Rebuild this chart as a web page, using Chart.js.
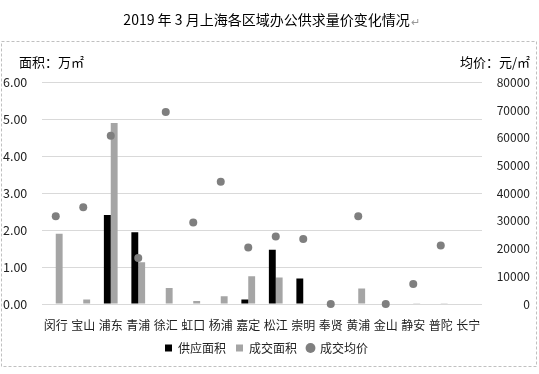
<!DOCTYPE html>
<html>
<head>
<meta charset="utf-8">
<script src="https://cdn.jsdelivr.net/npm/chart.js@4"></script>
<style>
html,body{margin:0;padding:0;background:#fff;}
#wrap{width:539px;height:374px;position:relative;}
</style>
</head>
<body>
<div id="wrap"><canvas id="c" width="539" height="374"></canvas></div>
<script>
const chartTitle = '2019 年 3 月上海各区域办公供求量价变化情况';
const leftAxisTitle = '面积：万㎡';
const rightAxisTitle = '均价：元/㎡';
const categories = ['闵行','宝山','浦东','青浦','徐汇','虹口','杨浦','嘉定','松江','崇明','奉贤','黄浦','金山','静安','普陀','长宁'];
const seriesNames = ['供应面积','成交面积','成交均价'];
const supplyArea = [0, 0, 2.41, 1.94, 0, 0, 0, 0.12, 1.47, 0.69, 0, 0, 0, 0, 0, 0];
const dealArea   = [1.90, 0.12, 4.90, 1.13, 0.43, 0.08, 0.21, 0.75, 0.72, 0, 0, 0.42, 0, 0.02, 0.02, 0];
const avgPrice   = [31700, 34960, 60700, 16600, 69350, 29400, 44170, 20430, 24390, 23450, 0, 31700, 0, 7200, 21150, null];
const leftTicks = [0, 1, 2, 3, 4, 5, 6];
const rightTicks = [0, 10000, 20000, 30000, 40000, 50000, 60000, 70000, 80000];

const FONT = '"Noto Sans CJK SC", "Noto Sans", sans-serif';
const TITLE_PAD_TOP = 11.6;
const TITLE_SIZE = 14;

const decor = {
  id: 'decor',
  beforeDraw(chart) {
    const ctx = chart.ctx;
    ctx.save();
    ctx.strokeStyle = '#c0c0c0';
    ctx.lineWidth = 1;
    ctx.setLineDash([3, 2]);
    ctx.strokeRect(1.5, 41.5, 535, 325);
    ctx.restore();
  },
  afterDraw(chart) {
    const ctx = chart.ctx;
    ctx.save();
    ctx.font = '13px ' + FONT;
    ctx.fillStyle = '#000';
    ctx.textBaseline = 'middle';
    ctx.textAlign = 'left';
    ctx.fillText(leftAxisTitle, 19, 62);
    ctx.textAlign = 'right';
    ctx.fillText(rightAxisTitle, 530, 62);
    const t = chart.titleBlock;
    ctx.font = TITLE_SIZE + 'px ' + FONT;
    const w = ctx.measureText(chartTitle).width;
    const cx = (t.left + t.right) / 2;
    ctx.font = '11px ' + FONT;
    ctx.fillStyle = '#999999';
    ctx.textAlign = 'left';
    ctx.fillText('↵', cx + w / 2 + 1, t.top + TITLE_PAD_TOP + TITLE_SIZE * 0.6 + 1.5);
    ctx.restore();
  }
};

new Chart(document.getElementById('c'), {
  type: 'bar',
  data: {
    labels: categories,
    datasets: [
      { label: seriesNames[0], data: supplyArea, backgroundColor: '#000000', yAxisID: 'y', order: 1,
        categoryPercentage: 0.5, barPercentage: 1.0, pointStyle: 'rect' },
      { label: seriesNames[1], data: dealArea, backgroundColor: '#a5a5a5', yAxisID: 'y', order: 1,
        categoryPercentage: 0.5, barPercentage: 1.0, pointStyle: 'rect' },
      { type: 'line', label: seriesNames[2], data: avgPrice, yAxisID: 'y1', order: 0, showLine: false,
        pointRadius: 4, pointHoverRadius: 4, pointBackgroundColor: '#7f7f7f', pointBorderColor: '#7f7f7f',
        backgroundColor: '#7f7f7f', borderColor: '#7f7f7f', borderWidth: 0, pointStyle: 'circle', clip: false }
    ]
  },
  options: {
    responsive: false,
    animation: false,
    devicePixelRatio: 1,
    layout: { padding: { left: 3, right: 9, top: 0, bottom: 10 } },
    plugins: {
      title: {
        display: true, text: chartTitle, color: '#000',
        font: { family: FONT, size: TITLE_SIZE, weight: 'normal' },
        padding: { top: TITLE_PAD_TOP, bottom: 54 }
      },
      legend: {
        position: 'bottom',
        labels: {
          usePointStyle: true, boxWidth: 7, boxHeight: 7, padding: 10,
          color: '#222', font: { family: FONT, size: 12 },
          sort: (a, b) => a.datasetIndex - b.datasetIndex
        }
      },
      tooltip: { enabled: false }
    },
    scales: {
      x: {
        afterFit: (s) => { s.height = 28; },
        grid: { display: false, drawTicks: false },
        border: { display: false },
        ticks: { color: '#222', font: { family: FONT, size: 12 }, padding: 14, maxRotation: 0, autoSkip: false }
      },
      y: {
        position: 'left', min: leftTicks[0], max: leftTicks[leftTicks.length - 1],
        afterBuildTicks: (s) => { s.ticks = leftTicks.map(v => ({ value: v })); },
        afterFit: (s) => { s.width = 39; },
        grid: { color: '#d9d9d9', drawTicks: false },
        border: { display: false },
        ticks: { crossAlign: 'far', color: '#222', font: { family: FONT, size: 12.5 },
          callback: (v) => Number(v).toFixed(2) }
      },
      y1: {
        position: 'right', min: rightTicks[0], max: rightTicks[rightTicks.length - 1],
        afterBuildTicks: (s) => { s.ticks = rightTicks.map(v => ({ value: v })); },
        afterFit: (s) => { s.width = 48; },
        grid: { display: false, drawTicks: false },
        border: { display: false },
        ticks: { crossAlign: 'far', color: '#222', font: { family: FONT, size: 12 },
          callback: (v) => String(v) }
      }
    }
  },
  plugins: [decor]
});
</script>
</body>
</html>
